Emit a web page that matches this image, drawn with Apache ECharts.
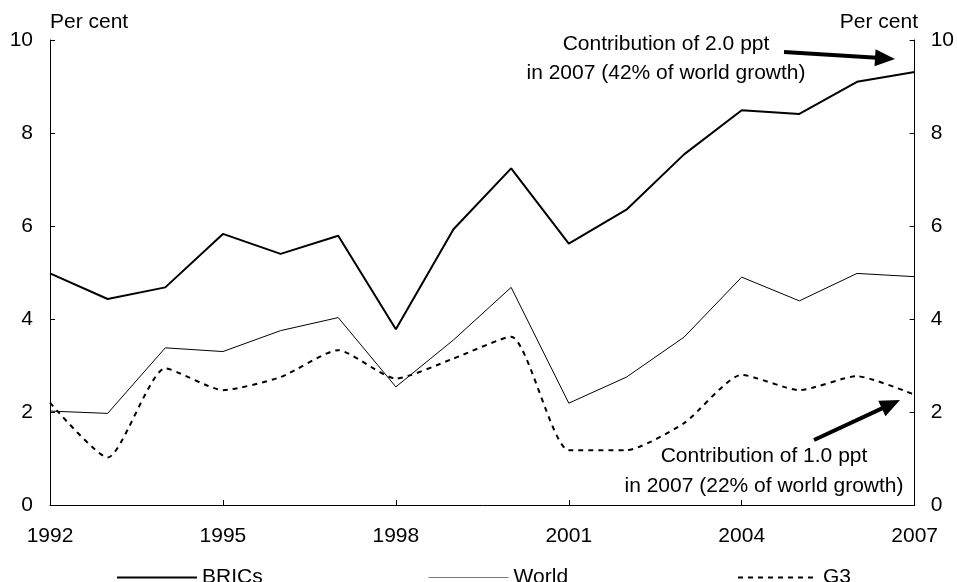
<!DOCTYPE html>
<html>
<head>
<meta charset="utf-8">
<script src="https://cdn.jsdelivr.net/npm/echarts@6/dist/echarts.min.js"></script>
<style>
html,body{margin:0;padding:0;background:#fff;}
#chart{width:957px;height:582px;}
</style>
</head>
<body>
<div id="chart"></div>
<script>
var years = ['1992','1993','1994','1995','1996','1997','1998','1999','2000','2001','2002','2003','2004','2005','2006','2007'];
var brics = [4.98,4.43,4.68,5.83,5.40,5.79,3.78,5.93,7.24,5.62,6.35,7.54,8.49,8.41,9.10,9.31];
var world = [2.02,1.97,3.38,3.30,3.75,4.03,2.54,3.55,4.68,2.19,2.75,3.61,4.90,4.39,4.98,4.91];
var g3 = [2.20,1.02,2.94,2.47,2.75,3.33,2.72,3.15,3.62,1.18,1.18,1.76,2.80,2.47,2.77,2.37];
var yTicks = {min:0, max:10, interval:2};
var note1 = ['Contribution of 2.0 ppt','in 2007 (42% of world growth)'];
var note2 = ['Contribution of 1.0 ppt','in 2007 (22% of world growth)'];

var FONT = '"Liberation Sans", Arial, sans-serif';
var FS = 21;

function arrow(x1,y1,x2,y2){
  var dx=x2-x1, dy=y2-y1, L=Math.sqrt(dx*dx+dy*dy);
  var ux=dx/L, uy=dy/L, px=-uy, py=ux;
  var hl=20, hw=8.5;
  var bx=x2-ux*hl, by=y2-uy*hl;
  return [
    {type:'line', shape:{x1:x1,y1:y1,x2:bx+ux*2,y2:by+uy*2}, style:{stroke:'#000',lineWidth:4}},
    {type:'polygon', shape:{points:[[x2,y2],[bx+px*hw,by+py*hw],[bx-px*hw,by-py*hw]]}, style:{fill:'#000'}}
  ];
}

var chart = echarts.init(document.getElementById('chart'));
var axisCommon = {
  type:'value', min:yTicks.min, max:yTicks.max, interval:yTicks.interval,
  axisLine:{show:true, lineStyle:{color:'#000', width:1}},
  axisTick:{show:true, inside:true, length:5, lineStyle:{color:'#000'}},
  splitLine:{show:false},
  axisLabel:{color:'#000', fontSize:FS, fontFamily:FONT, margin:17}
};
var legendCommon = {top:562, itemWidth:80, itemHeight:14,
  itemStyle:{opacity:0, borderWidth:0},
  textStyle:{color:'#000', fontSize:FS, fontFamily:FONT}, itemGap:0};

var graphics = [];
graphics = graphics.concat(arrow(784,52,895,59));
graphics = graphics.concat(arrow(814,440,900,400));
graphics.push({type:'text', style:{text:note1.join('\n'), x:666, y:30, textAlign:'center', fill:'#000', font:FS+'px '+FONT, lineHeight:29}});
graphics.push({type:'text', style:{text:note2.join('\n'), x:764, y:441, textAlign:'center', fill:'#000', font:FS+'px '+FONT, lineHeight:30}});
graphics.push({type:'text', style:{text:'Per cent', x:50, y:12, textAlign:'left', fill:'#000', font:FS+'px '+FONT}});
graphics.push({type:'text', style:{text:'Per cent', x:918, y:12, textAlign:'right', fill:'#000', font:FS+'px '+FONT}});

chart.setOption({
  animation:false,
  backgroundColor:'#fff',
  grid:{left:50, right:39, top:40, bottom:77, containLabel:false},
  xAxis:{
    type:'category', data:years, boundaryGap:false,
    axisLine:{lineStyle:{color:'#000', width:1}},
    axisTick:{show:true, inside:true, length:5, interval:2, lineStyle:{color:'#000'}},
    axisLabel:{interval:2, color:'#000', fontSize:FS, fontFamily:FONT, margin:21},
    splitLine:{show:false}
  },
  yAxis:[
    Object.assign({}, axisCommon, {position:'left'}),
    Object.assign({}, axisCommon, {position:'right', axisLabel:{color:'#000', fontSize:FS, fontFamily:FONT, margin:16}})
  ],
  legend:[
    Object.assign({}, legendCommon, {left:111, data:[{name:'BRICs', lineStyle:{color:'#000', width:2, opacity:1}}]}),
    Object.assign({}, legendCommon, {left:423, data:[{name:'World', lineStyle:{color:'#777', width:1.2, opacity:1}}]}),
    Object.assign({}, legendCommon, {left:732, data:[{name:'G3', lineStyle:{color:'#000', width:2, type:[5,5], opacity:1}}]})
  ],
  series:[
    {name:'BRICs', type:'line', data:brics, symbol:'none', lineStyle:{color:'#000', width:2}, itemStyle:{color:'#000'}},
    {name:'World', type:'line', data:world, symbol:'none', lineStyle:{color:'#000', width:1}, itemStyle:{color:'#000'}},
    {name:'G3', type:'line', data:g3, symbol:'none', smooth:0.2, lineStyle:{color:'#000', width:2, type:[5,5]}, itemStyle:{color:'#000'}}
  ],
  graphic:graphics
});
</script>
</body>
</html>
